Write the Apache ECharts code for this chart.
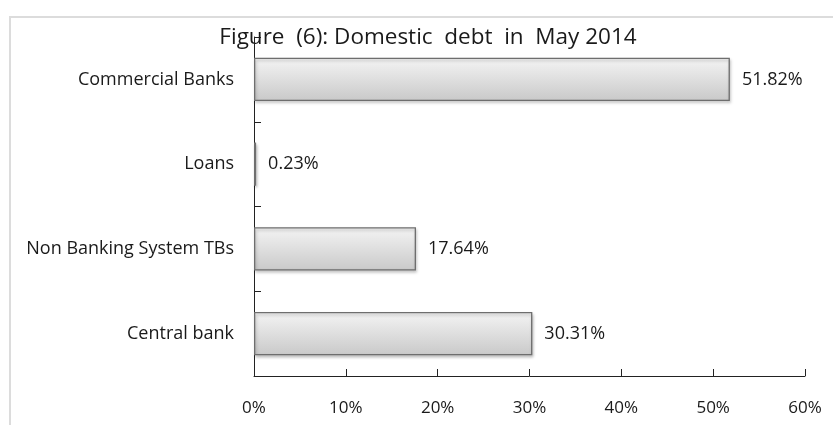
<!DOCTYPE html>
<html>
<head>
<meta charset="utf-8">
<script src="https://cdn.jsdelivr.net/npm/echarts@6/dist/echarts.min.js"></script>
<style>
    html, body { margin: 0; padding: 0; background: #fff; }
    #chart { width: 833px; height: 425px; }
</style>
</head>
<body>
<div id="chart"></div>
<script>
    // data (bottom to top as drawn by the category axis)
    var categories = ['Central bank', 'Non Banking System TBs', 'Loans', 'Commercial Banks'];
    var shares = [30.31, 17.64, 0.23, 51.82];
    var xTicks = [0, 10, 20, 30, 40, 50, 60];

    var chart = echarts.init(document.getElementById('chart'));
    var labelFont = '"Open Sans", sans-serif';

    chart.setOption({
        animation: false,
        title: {
            text: 'Figure  (6): Domestic  debt  in  May 2014',
            left: 423,
            textAlign: 'center',
            top: 21,
            textStyle: {
                fontFamily: labelFont,
                fontSize: 22.5,
                fontWeight: 'normal',
                color: '#1a1a1a'
            }
        },
        graphic: [{
            type: 'rect',
            shape: { x: 10, y: 17, width: 900, height: 500 },
            style: { fill: 'none', stroke: '#dcdcdc', lineWidth: 2 },
            z: -1
        }],
        grid: { left: 254, right: 28, top: 37, bottom: 49 },
        xAxis: {
            type: 'value',
            min: xTicks[0],
            max: xTicks[xTicks.length - 1],
            interval: 10,
            axisLine: { show: true, lineStyle: { color: '#222', width: 1 } },
            axisTick: { show: true, inside: true, length: 7, lineStyle: { color: '#222' } },
            splitLine: { show: false },
            axisLabel: {
                formatter: '{value}%',
                margin: 24,
                fontFamily: labelFont,
                fontSize: 17,
                color: '#1a1a1a'
            }
        },
        yAxis: {
            type: 'category',
            data: categories,
            axisLine: { show: true, lineStyle: { color: '#222', width: 1 } },
            axisTick: { show: true, inside: true, length: 7, lineStyle: { color: '#222' } },
            axisLabel: {
                margin: 20,
                fontFamily: labelFont,
                fontSize: 18,
                color: '#1a1a1a'
            }
        },
        series: [{
            type: 'bar',
            data: shares,
            barWidth: '51%',
            itemStyle: {
                color: new echarts.graphic.LinearGradient(0, 0, 0, 1, [
                    { offset: 0, color: '#f4f4f4' },
                    { offset: 1, color: '#c9c9c9' }
                ]),
                borderColor: '#6e6e6e',
                borderWidth: 1.3,
                shadowColor: 'rgba(0,0,0,0.25)',
                shadowBlur: 3,
                shadowOffsetX: 1,
                shadowOffsetY: 2
            },
            label: {
                show: true,
                position: 'right',
                distance: 12,
                formatter: function (p) { return p.value.toFixed(2) + '%'; },
                fontFamily: labelFont,
                fontSize: 18,
                color: '#1a1a1a'
            }
        }]
    });
</script>
</body>
</html>
